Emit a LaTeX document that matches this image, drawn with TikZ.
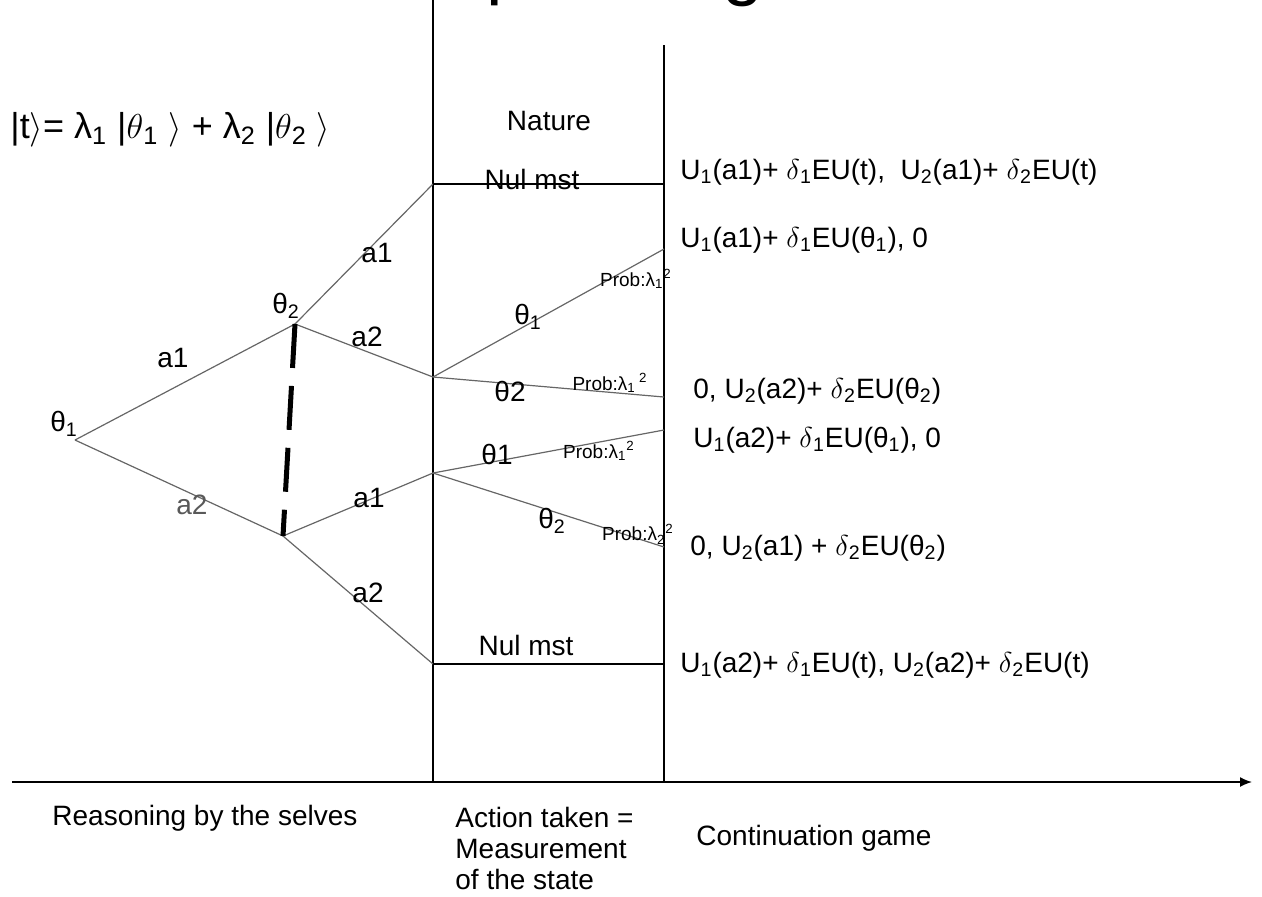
\documentclass[tikz,border=0pt]{standalone}
\usepackage{fontspec}
\setmainfont{Liberation Sans}
\usepackage{tikz}
\usetikzlibrary{arrows.meta}

\newcommand{\lsub}[1]{\textsubscript{#1}}
\newcommand{\lsup}[1]{\textsuperscript{#1}}

\begin{document}
\begin{tikzpicture}[
      x=0.5pt, y=-0.5pt,
      br/.style={draw=gray!80!black, line width=0.6pt},
      ln/.style={draw, line width=0.55pt},
      lbl/.style={font=\fontsize{14}{16}\selectfont, inner sep=1pt},
      prob/.style={font=\fontsize{9.5}{11}\selectfont, inner sep=1pt},
      pay/.style={anchor=west, font=\fontsize{14}{16}\selectfont, inner sep=0pt},
      arr/.style={-{Latex[length=6pt, width=5pt]}, line width=0.8pt}
    ]
    \useasboundingbox (0,0) rectangle (1262,896);

    % title, cut off by the top edge
    \node[anchor=base west, font=\fontsize{37}{40}\selectfont, inner sep=0pt] (tp) at (486,-10) {p};
    \node[anchor=base west, font=\fontsize{37}{40}\selectfont, inner sep=0pt] (tg) at (722,-9) {g};

    % stages
    \coordinate (v1t) at (433,0);
    \coordinate (v1b) at (433,782);
    \coordinate (v2t) at (664,45);
    \coordinate (v2b) at (664,782);
    \coordinate (ax0) at (12,782);
    \coordinate (ax1) at (1252,782);
    \draw[ln] (v1t) -- (v1b);
    \draw[ln] (v2t) -- (v2b);
    \draw[arr] (ax0) -- (ax1);

    % tree
    \coordinate (t1) at (75,440);
    \coordinate (t2u) at (295,324);
    \coordinate (t2l) at (283,536);
    \coordinate (m1) at (433,184);
    \coordinate (m2) at (433,377);
    \coordinate (m3) at (433,473);
    \coordinate (m4) at (433,664);
    \coordinate (e1) at (664,184);
    \coordinate (e2) at (664,249);
    \coordinate (e3) at (664,397);
    \coordinate (e4) at (664,430);
    \coordinate (e5) at (664,547);
    \coordinate (e6) at (664,664);

    \draw[br] (t1) -- (t2u);
    \draw[br] (t1) -- (t2l);
    \draw[br] (t2u) -- (m1);
    \draw[br] (t2u) -- (m2);
    \draw[br] (t2l) -- (m3);
    \draw[br] (t2l) -- (m4);
    \draw[ln] (m1) -- (e1);
    \draw[ln] (m4) -- (e6);
    \draw[br] (m2) -- (e2);
    \draw[br] (m2) -- (e3);
    \draw[br] (m3) -- (e4);
    \draw[br] (m3) -- (e5);
    \draw[line width=2.5pt, dash pattern=on 22pt off 9pt] (t2u) -- (t2l);

    % labels
    \node[lbl] (th1) at (64,424) {θ\lsub{1}};
    \node[lbl] (th2) at (286,306) {θ\lsub{2}};
    \node[lbl] (la1) at (173,358) {a1};
    \node[lbl, text=gray!70!black] (la2) at (192,505) {a2};
    \node[lbl] (lb1) at (377,253) {a1};
    \node[lbl] (lb2) at (367,337) {a2};
    \node[lbl] (lc1) at (369,498) {a1};
    \node[lbl] (lc2) at (368,593) {a2};
    \node[lbl] (nat) at (549,121) {Nature};
    \node[lbl] (nul1) at (532,179) {Nul mst};
    \node[lbl] (nul2) at (526,645) {Nul mst};
    \node[lbl] (n1) at (528,317) {θ\lsub{1}};
    \node[lbl] (n2) at (510,391) {θ2};
    \node[lbl] (n3) at (497,454) {θ1};
    \node[lbl] (n4) at (552,521) {θ\lsub{2}};
    \node[prob] (p1) at (636,279) {Prob:λ\lsub{1}\lsup{2}};
    \node[prob] (p2) at (610,383) {Prob:λ\lsub{1}\,\lsup{2}};
    \node[prob] (p3) at (599,451) {Prob:λ\lsub{1}\lsup{2}};
    \node[prob] (p4) at (638,534) {Prob:λ\lsub{2}\lsup{2}};

    \node[anchor=west, font=\fontsize{18}{20}\selectfont, inner sep=0pt] (st) at (10,130)
      {|t\(\rangle\)= λ\lsub{1} |\(\theta\)\lsub{1} \(\rangle\) + λ\lsub{2} |\(\theta\)\lsub{2} \(\rangle\)};

    % payoffs
    \node[pay] (u1) at (680,172) {U\lsub{1}(a1)+ \(\delta\)\lsub{1}EU(t),\ \ U\lsub{2}(a1)+ \(\delta\)\lsub{2}EU(t)};
    \node[pay] (u2) at (680,240) {U\lsub{1}(a1)+ \(\delta\)\lsub{1}EU(θ\lsub{1}), 0};
    \node[pay] (u3) at (693,391) {0, U\lsub{2}(a2)+ \(\delta\)\lsub{2}EU(θ\lsub{2})};
    \node[pay] (u4) at (693,440) {U\lsub{1}(a2)+ \(\delta\)\lsub{1}EU(θ\lsub{1}), 0};
    \node[pay] (u5) at (690,548) {0, U\lsub{2}(a1) + \(\delta\)\lsub{2}EU(θ\lsub{2})};
    \node[pay] (u6) at (680,665) {U\lsub{1}(a2)+ \(\delta\)\lsub{1}EU(t), U\lsub{2}(a2)+ \(\delta\)\lsub{2}EU(t)};

    % stage names
    \node[pay] (s1) at (52,818) {Reasoning by the selves};
    \node[anchor=north west, align=left, font=\fontsize{14}{15.5}\selectfont, inner sep=0pt] (s2) at (455,807)
      {Action taken =\\Measurement\\of the state};
    \node[pay] (s3) at (696,838) {Continuation game};
  \end{tikzpicture}
\end{document}
